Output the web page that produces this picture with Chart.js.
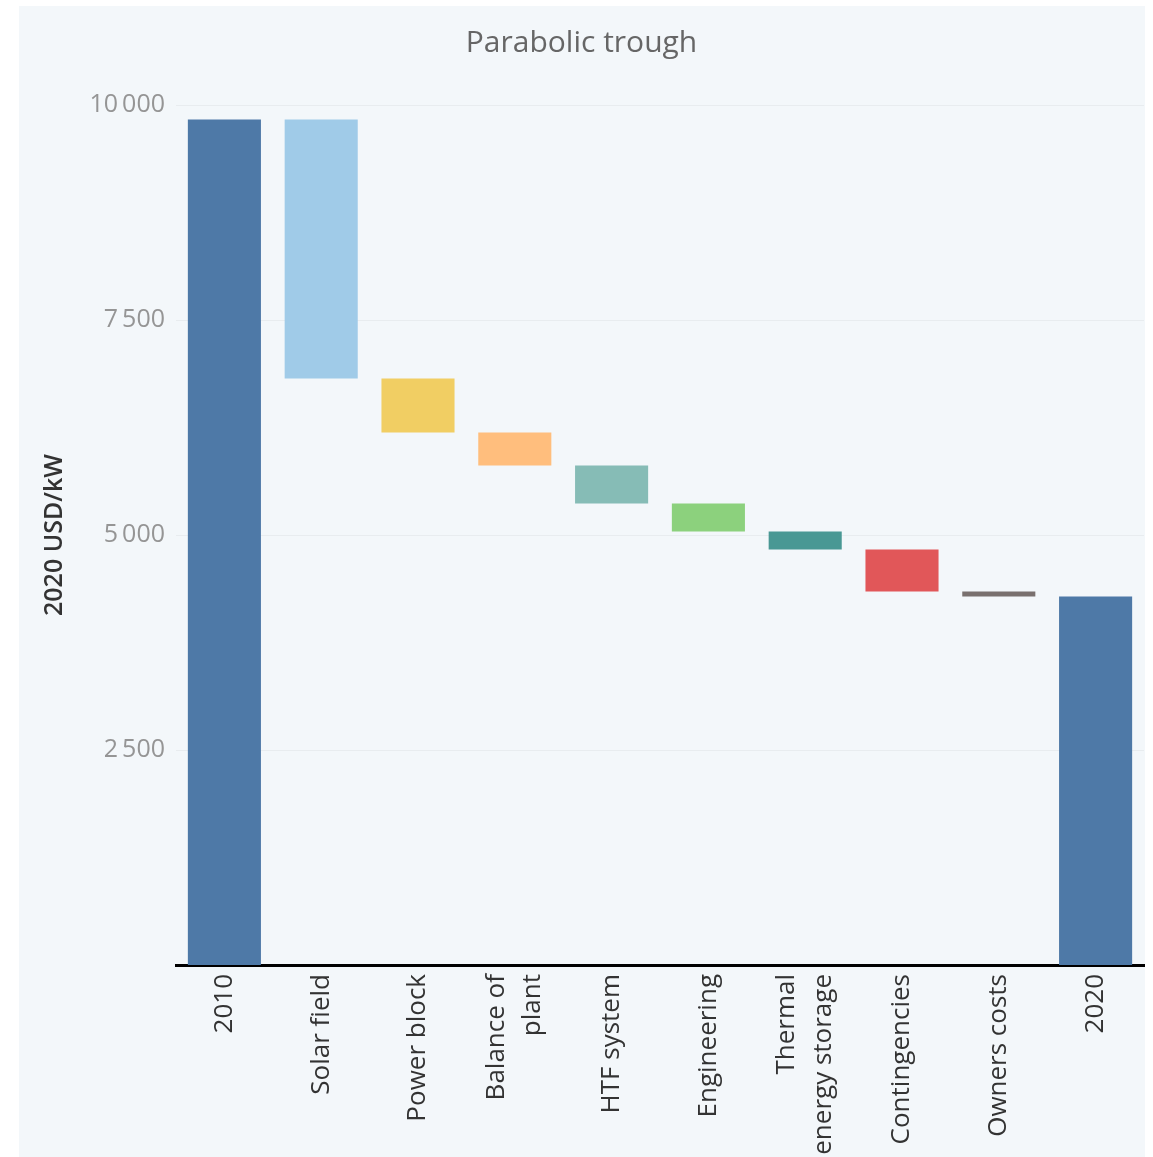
<!DOCTYPE html>
<html>
<head>
<meta charset="utf-8">
<title>Parabolic trough</title>
<script src="https://cdn.jsdelivr.net/npm/chart.js@4.4.0/dist/chart.umd.min.js"></script>
<style>
    html, body { margin: 0; padding: 0; background: #fff; overflow: hidden; }
    #panel {
        position: absolute; left: 19px; top: 6px;
        width: 1126px; height: 1200px;
        background: #f3f7fa;
    }
</style>
</head>
<body>
<div id="panel"><canvas id="costChart" width="1126" height="1200"></canvas></div>
<script>
/* ─── Data ─────────────────────────────────────────────────────── */
const categories = [
    '2010', 'Solar field', 'Power block', ['Balance of', 'plant'], 'HTF system',
    'Engineering', ['Thermal', 'energy storage'], 'Contingencies', 'Owners costs', '2020',
];
const startValue = 9830;                                     // 2010 total, USD/kW
const reductions = [3010, 628, 384, 442, 325, 209, 489, 58]; // drop per component
const barColors  = [
    '#4e79a7', '#a0cbe8', '#f1ce63', '#ffbe7d', '#86bcb6',
    '#8cd17d', '#499894', '#e15759', '#79706e', '#4e79a7',
];
const yTicks = [2500, 5000, 7500, 10000];

/* ─── Waterfall ranges ─────────────────────────────────────────── */
const ranges = [[0, startValue]];
let level = startValue;
reductions.forEach(r => {
    ranges.push([level - r, level]);
    level -= r;
});
ranges.push([0, level]);

const fmt = v => v.toLocaleString('en-US').replace(/,/g, '\u2009');

const X_FONT_SIZE = 26;
const X_LINE_H    = 1.4;

// Chart.js puts the first line of a rotated multi-line label on the tick;
// shift those labels back so the block is centred on the bar.
const centreMultiLine = {
    id: 'centreMultiLine',
    beforeDraw(chart) {
        const xs = chart.scales.x;
        if (xs._centred) return;
        const lh = X_FONT_SIZE * X_LINE_H;
        xs.getLabelItems().forEach(item => {
            if (Array.isArray(item.label)) {
                item.options.translation[0] -= (item.label.length - 1) * lh / 2;
            }
        });
        xs._centred = true;
    },
};

/* ─── Chart ────────────────────────────────────────────────────── */
new Chart(document.getElementById('costChart'), {
    type : 'bar',
    data : {
        labels   : categories,
        datasets : [{
            data               : ranges,
            backgroundColor    : barColors,
            borderWidth        : 0,
            barPercentage      : 0.755,
            categoryPercentage : 1,
        }],
    },
    plugins: [centreMultiLine],
    options: {
        responsive : false,
        animation  : false,
        layout     : { padding: { left: 0, right: 1, top: 0, bottom: 0 } },
        plugins    : {
            legend  : { display: false },
            tooltip : { enabled: false },
            title   : {
                display : true,
                text    : 'Parabolic trough',
                color   : '#666',
                font    : { family: 'Open Sans', size: 30, weight: 'normal' },
                padding : { top: 19, bottom: 44 },
            },
        },
        scales: {
            x: {
                grid   : { display: false, drawTicks: false },
                border : { color: '#000', width: 3 },
                ticks  : {
                    color       : '#333',
                    font        : { family: 'Open Sans', size: X_FONT_SIZE, lineHeight: X_LINE_H },
                    minRotation : 90,
                    maxRotation : 90,
                    padding     : 9,
                    autoSkip    : false,
                },
                afterFit: scale => { scale.height = 241; },
            },
            y: {
                min    : 0,
                max    : 10000,
                border : { display: false },
                grid   : { color: '#e8ecef', lineWidth: 1, drawTicks: false },
                afterBuildTicks: scale => { scale.ticks = yTicks.map(v => ({ value: v })); },
                ticks  : {
                    color    : '#959595',
                    font     : { family: 'Open Sans', size: 25 },
                    padding  : 11,
                    callback : v => fmt(v),
                },
                title  : {
                    display : true,
                    text    : '2020 USD/kW',
                    color   : '#333',
                    font    : { family: 'Open Sans', size: 25, weight: '600' },
                    padding : { top: 21, bottom: 0 },
                },
                afterFit: scale => { scale.width = 157; },
            },
        },
    },
});
</script>
</body>
</html>
